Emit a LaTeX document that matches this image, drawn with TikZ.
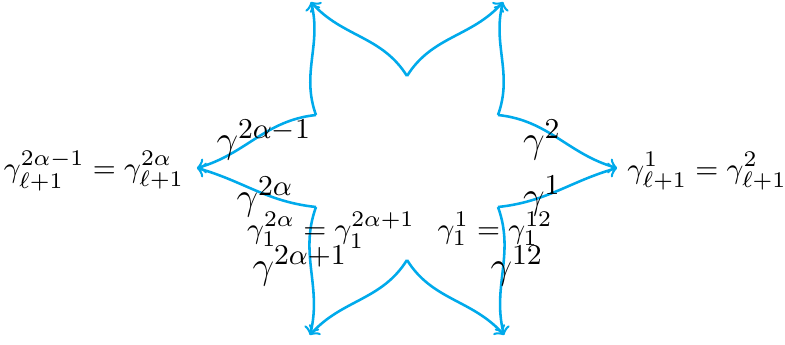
\documentclass[tikz,border=0pt]{standalone}
\definecolor{lineblue}{RGB}{0,170,235}
\begin{document}
\begin{tikzpicture}[x=0.3125pt,y=-0.3125pt,
  arc/.style={draw=lineblue, thick, ->},
  biglabel/.style={font=\fontsize{12.4}{15}\selectfont, inner sep=0pt},
  smalllabel/.style={font=\fontsize{9.3}{11}\selectfont, inner sep=0pt}]
\useasboundingbox (0,0) rectangle (785,345);
% inner vertices
\coordinate (T)  at (407,76);
\coordinate (B)  at (407,260);
\coordinate (UL) at (316,115);
\coordinate (LL) at (316,207);
\coordinate (UR) at (498,115);
\coordinate (LR) at (498,207);
% outer tips
\coordinate (TL) at (311,2);
\coordinate (TR) at (503,2);
\coordinate (L)  at (197,168);
\coordinate (R)  at (617,168);
\coordinate (BL) at (310,335);
\coordinate (BR) at (504,335);
% arcs
\draw[arc] (T)  to[out=122,in=-48]  (TL);
\draw[arc] (UL) to[out=110,in=-76]  (TL);
\draw[arc] (UL) to[out=186,in=16]   (L);
\draw[arc] (LL) to[out=174,in=-16]  (L);
\draw[arc] (LL) to[out=250,in=76]   (BL);
\draw[arc] (B)  to[out=238,in=48]   (BL);
\draw[arc] (T)  to[out=58,in=228]   (TR);
\draw[arc] (UR) to[out=70,in=256]   (TR);
\draw[arc] (UR) to[out=-6,in=164]   (R);
\draw[arc] (LR) to[out=6,in=196]    (R);
\draw[arc] (LR) to[out=-70,in=104]  (BR);
\draw[arc] (B)  to[out=-58,in=132]  (BR);
% labels
\node[biglabel] (g2am1) at (264,140) {$\gamma^{2\alpha-1}$};
\node[biglabel] (g2a)   at (265,197) {$\gamma^{2\alpha}$};
\node[biglabel] (g2ap1) at (300,266) {$\gamma^{2\alpha+1}$};
\node[biglabel] (g2)    at (542,140) {$\gamma^{2}$};
\node[biglabel] (g1)    at (542,196) {$\gamma^{1}$};
\node[biglabel] (g12)   at (517,266) {$\gamma^{12}$};
\node[smalllabel] (eqLL) at (331,230) {$\gamma_1^{2\alpha}=\gamma_1^{2\alpha+1}$};
\node[smalllabel] (eqLR) at (495,229) {$\gamma_1^{1}=\gamma_1^{12}$};
\node[smalllabel] (eqL)  at (94,171)  {$\gamma_{\ell+1}^{2\alpha-1}=\gamma_{\ell+1}^{2\alpha}$};
\node[smalllabel] (eqR)  at (707,171) {$\gamma_{\ell+1}^{1}=\gamma_{\ell+1}^{2}$};
\end{tikzpicture}
\end{document}
